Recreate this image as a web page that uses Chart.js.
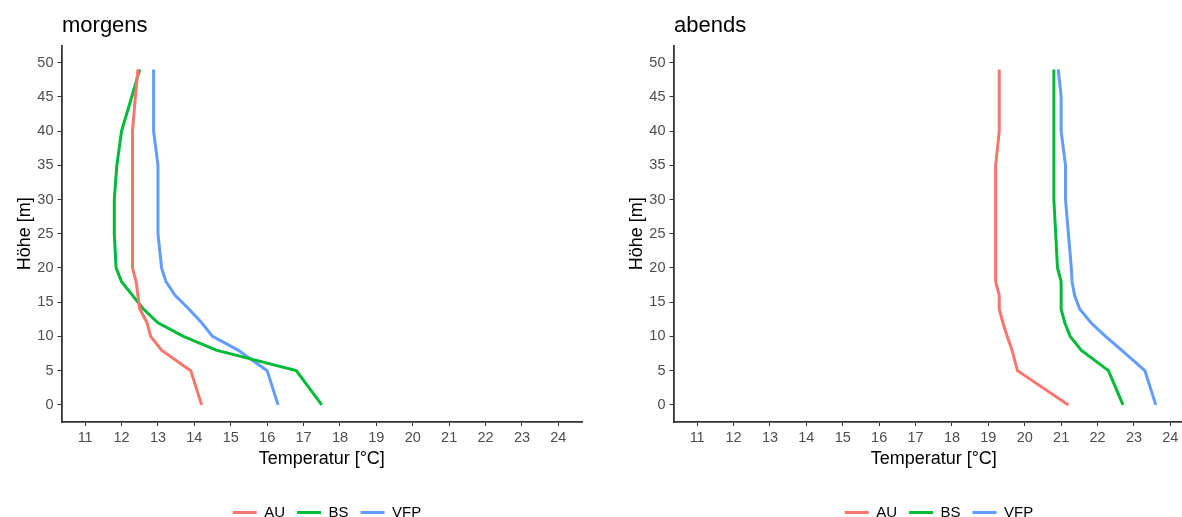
<!DOCTYPE html>
<html>
<head>
<meta charset="utf-8">
<script src="https://cdn.jsdelivr.net/npm/chart.js@4/dist/chart.umd.min.js"></script>
<style>
  html, body { margin: 0; padding: 0; background: #fff; overflow: hidden; width: 1182px; height: 517px; }
  canvas { position: absolute; top: 0; }
  #morgensChart { left: 0; }
  #abendsChart { left: 612px; }
</style>
</head>
<body>
<canvas id="morgensChart" width="600" height="530"></canvas>
<canvas id="abendsChart" width="600" height="530"></canvas>
<script>
// Höhe in m (gemeinsam für alle Profile)
const hoehen = [0, 5, 8, 10, 12, 14, 16, 18, 20, 25, 30, 35, 40, 45, 49];

// morgens: Temperatur in °C
const auMorgens  = [14.2, 13.9, 13.1, 12.8, 12.7, 12.5, 12.45, 12.4, 12.3, 12.3, 12.3, 12.3, 12.3, 12.38, 12.45];
const bsMorgens  = [17.5, 16.8, 14.6, 13.7, 13.0, 12.6, 12.3, 12.0, 11.85, 11.8, 11.8, 11.87, 12.0, 12.28, 12.5];
const vfpMorgens = [16.3, 16.0, 15.2, 14.5, 14.2, 13.85, 13.47, 13.22, 13.1, 13.0, 13.0, 13.0, 12.88, 12.88, 12.88];

// abends: Temperatur in °C
const auAbends  = [21.2, 19.8, 19.65, 19.52, 19.4, 19.3, 19.3, 19.2, 19.2, 19.2, 19.2, 19.2, 19.3, 19.3, 19.3];
const bsAbends  = [22.7, 22.3, 21.55, 21.25, 21.1, 21.0, 21.0, 21.0, 20.9, 20.85, 20.8, 20.8, 20.8, 20.8, 20.8];
const vfpAbends = [23.6, 23.3, 22.66, 22.22, 21.82, 21.51, 21.37, 21.3, 21.28, 21.2, 21.12, 21.12, 21.0, 21.0, 20.92];

const serien = ['AU', 'BS', 'VFP'];
const farben = ['#F8766D', '#00BA38', '#619CFF'];

const xTicks = [11, 12, 13, 14, 15, 16, 17, 18, 19, 20, 21, 22, 23, 24];
const yTicks = [0, 5, 10, 15, 20, 25, 30, 35, 40, 45, 50];

Chart.defaults.font.family = '"Liberation Sans", Arial, sans-serif';

// Panel-Titel oben links (wie ggplot)
const panelTitlePlugin = {
  id: 'panelTitle',
  afterDraw(chart, args, opts) {
    const ctx = chart.ctx;
    ctx.save();
    ctx.font = '22px "Liberation Sans", Arial, sans-serif';
    ctx.fillStyle = '#000';
    ctx.textBaseline = 'alphabetic';
    ctx.textAlign = 'left';
    ctx.fillText(opts.text, chart.chartArea.left + 0.5, 32);
    ctx.restore();
  }
};

// Legende etwas nach rechts schieben
const legendShiftPlugin = {
  id: 'legendShift',
  afterLayout(chart, args, opts) {
    chart.legend.left += opts.dx;
    chart.legend.right += opts.dx;
  }
};

function punkte(werte) {
  return werte.map((t, i) => ({ x: t, y: hoehen[i] }));
}

function makeChart(id, titel, reihen) {
  const ctx = document.getElementById(id).getContext('2d');
  return new Chart(ctx, {
    type: 'scatter',
    data: {
      datasets: reihen.map((werte, i) => ({
        label: serien[i],
        data: punkte(werte),
        showLine: true,
        borderColor: farben[i],
        backgroundColor: farben[i],
        borderWidth: 3,
        pointRadius: 0,
        pointHoverRadius: 0,
        tension: 0
      }))
    },
    options: {
      responsive: false,
      animation: false,
      events: [],
      layout: { padding: { left: 0, top: 45.5, right: 18, bottom: 0 } },
      plugins: {
        legend: {
          position: 'bottom',
          labels: {
            usePointStyle: true,
            pointStyle: 'line',
            pointStyleWidth: 24,
            padding: 12,
            color: '#000',
            font: { size: 15 }
          }
        },
        tooltip: { enabled: false },
        panelTitle: { text: titel },
        legendShift: { dx: 36 }
      },
      scales: {
        x: {
          type: 'linear',
          min: 10.35,
          max: 24.65,
          afterBuildTicks: s => { s.ticks = xTicks.map(v => ({ value: v })); },
          afterFit: s => { s.height = 71; },
          ticks: { color: '#4d4d4d', font: { size: 14.5 }, padding: 3, autoSkip: false, maxRotation: 0 },
          grid: { drawOnChartArea: false, drawTicks: true, tickLength: 4, color: '#333' },
          border: { display: true, color: '#333', width: 1.8 },
          title: { display: true, text: 'Temperatur [°C]', color: '#000', font: { size: 18 }, padding: { top: 0, bottom: 23 } }
        },
        y: {
          type: 'linear',
          min: -2.5,
          max: 52.5,
          afterBuildTicks: s => { s.ticks = yTicks.map(v => ({ value: v })); },
          afterFit: s => { s.width = 61.5; },
          ticks: { color: '#4d4d4d', font: { size: 14.5 }, padding: 4, autoSkip: false },
          grid: { drawOnChartArea: false, drawTicks: true, tickLength: 4, color: '#333' },
          border: { display: true, color: '#333', width: 1.8 },
          title: { display: true, text: 'Höhe [m]', color: '#000', font: { size: 18 }, padding: { top: 14, bottom: 0 } }
        }
      }
    },
    plugins: [panelTitlePlugin, legendShiftPlugin]
  });
}

makeChart('morgensChart', 'morgens', [auMorgens, bsMorgens, vfpMorgens]);
makeChart('abendsChart', 'abends', [auAbends, bsAbends, vfpAbends]);
</script>
</body>
</html>
